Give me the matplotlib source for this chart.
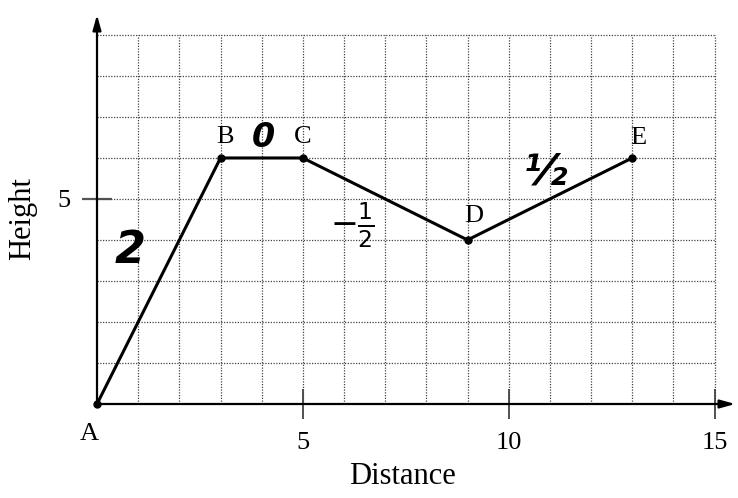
import matplotlib
matplotlib.use("Agg")
import matplotlib.pyplot as plt

# path through the labelled points
point_names = ["A", "B", "C", "D", "E"]
dist = [0, 3, 5, 9, 13]
height = [0, 6, 6, 4, 6]

# slopes written on each leg
slope_text = ["2", "0", r"$-\frac{1}{2}$", "½"]
slope_x = [0.8, 4.05, 6.2, 10.9]
slope_y = [3.75, 6.5, 4.35, 5.65]
slope_size = [32, 24, 24, 30]

x_ticks = [5, 10, 15]
y_ticks = [5]
grid_w, grid_h = 15, 9

plt.rcParams["font.family"] = ["Liberation Serif", "DejaVu Serif"]
plt.rcParams["mathtext.fontset"] = "dejavusans"

fig = plt.figure(figsize=(7.38, 4.98), dpi=100)
ax = fig.add_axes([97 / 738, 94 / 498, 641 / 738, 392 / 498])
ax.set_xlim(0, 15.57)
ax.set_ylim(0, 9.56)
for s in ax.spines.values():
    s.set_visible(False)

# dotted grid
ax.vlines(range(1, grid_w + 1), 0, grid_h, colors="#444444",
          linestyles=(0, (1, 1.2)), linewidth=0.9)
ax.hlines(range(1, grid_h + 1), 0, grid_w, colors="#444444",
          linestyles=(0, (1, 1.2)), linewidth=0.9)

# axes with arrow heads
arrow = dict(arrowstyle="-|>,head_length=0.9,head_width=0.25", color="black", lw=1.6)
ax.annotate("", xy=(15.57, 0), xytext=(0, 0), arrowprops=arrow,
            annotation_clip=False)
ax.annotate("", xy=(0, 9.56), xytext=(0, 0), arrowprops=arrow,
            annotation_clip=False)

ax.set_xticks(x_ticks)
ax.set_yticks(y_ticks)
ax.tick_params(axis="x", direction="inout", length=22, width=1.2, pad=9,
               labelsize=19, color="#333333")
ax.tick_params(axis="y", direction="inout", length=22, width=1.6, pad=8,
               labelsize=19, color="#555555")

ax.plot(dist, height, color="black", lw=2.2, marker="o", markersize=5,
        clip_on=False, zorder=5)

offsets = {"A": (-0.2, -0.88), "B": (0.12, 0.37), "C": (0.0, 0.37),
           "D": (0.15, 0.44), "E": (0.15, 0.33)}
for name, x, y in zip(point_names, dist, height):
    dx, dy = offsets[name]
    ax.text(x + dx, y + dy, name, fontsize=19, ha="center", va="baseline")

for t, x, y, fs in zip(slope_text, slope_x, slope_y, slope_size):
    ax.text(x, y, t, fontsize=fs, ha="center", va="center",
            family="DejaVu Sans", style="italic", fontweight="bold")

fig.text(402 / 738, 1 - 476 / 498, "Distance", fontsize=22,
         ha="center", va="center")
fig.text(23 / 738, 1 - 219 / 498, "Height", fontsize=22, rotation=90,
         ha="center", va="center")

fig.savefig("out.png", dpi=100, facecolor="white")
